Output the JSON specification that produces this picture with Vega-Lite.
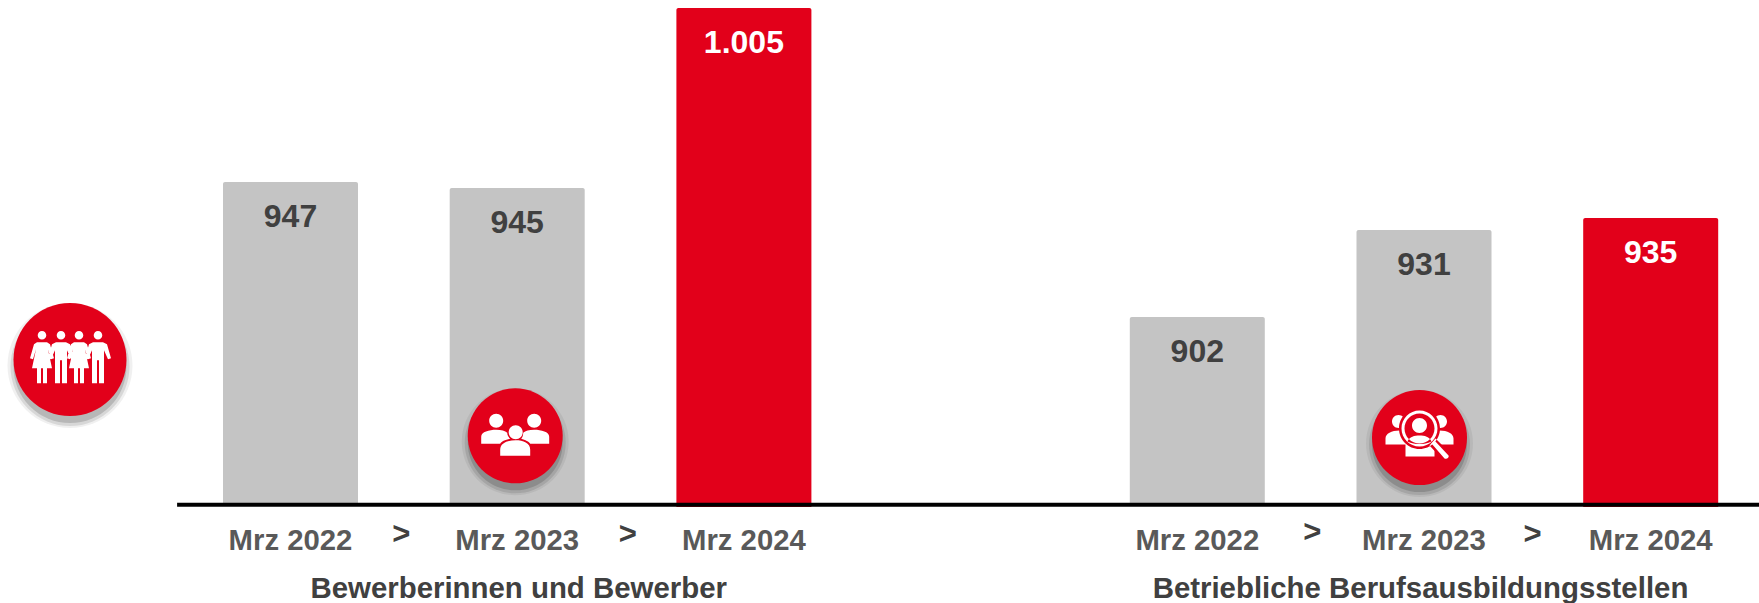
{
"$schema":"https://vega.github.io/schema/vega-lite/v6.json",
"width":1759,"height":603,"padding":0,"autosize":{"type":"none"},"background":"white",
"config":{"view":{"stroke":null},"font":"Liberation Sans"},
"data":{"values":[
{"slot":"Bewerber Mrz 2022","value":947,"label":"947","latest":false},
{"slot":"Bewerber Mrz 2023","value":945,"label":"945","latest":false},
{"slot":"Bewerber Mrz 2024","value":1005,"label":"1.005","latest":true},
{"slot":"Stellen Mrz 2022","value":902,"label":"902","latest":false},
{"slot":"Stellen Mrz 2023","value":931,"label":"931","latest":false},
{"slot":"Stellen Mrz 2024","value":935,"label":"935","latest":true}
]},
"encoding":{
"x":{"field":"slot","type":"nominal","title":null,
"scale":{"domain":["icon","Bewerber Mrz 2022","Bewerber Mrz 2023","Bewerber Mrz 2024","gap","Stellen Mrz 2022","Stellen Mrz 2023","Stellen Mrz 2024","end"],"range":[-3.7,1944.9],"paddingInner":0.4045,"paddingOuter":0},
"axis":{"orient":"bottom","offset":-98,"values":["Bewerber Mrz 2022","Bewerber Mrz 2023","Bewerber Mrz 2024","Stellen Mrz 2022","Stellen Mrz 2023","Stellen Mrz 2024"],"labelExpr":"slice(datum.label,-8)","labelAngle":0,"domain":false,"ticks":false,"labelPadding":21,"labelFont":"Liberation Sans","labelFontWeight":"bold","labelFontSize":29.3,"labelColor":"#595959","labelBaseline":"top","labelOverlap":false,"grid":false}},
"y":{"field":"value","type":"quantitative","title":null,"axis":null,"scale":{"domain":[806.667,1007.667],"nice":false,"zero":false}}
},
"layer":[
{"transform":[{"filter":"!datum.latest"}],"mark":{"type":"bar","color":"#c4c4c4","cornerRadiusTopLeft":2,"cornerRadiusTopRight":2},"encoding":{"y2":{"datum":839.33}}},
{"transform":[{"filter":"datum.latest"}],"mark":{"type":"bar","color":"#e2001a","cornerRadiusTopLeft":2,"cornerRadiusTopRight":2},"encoding":{"y2":{"datum":838.67}}},
{"data":{"values":[{"slot":"Bewerber Mrz 2022","value":839.4}]},"mark":{"type":"rule","color":"#000000","strokeWidth":4},"encoding":{"x":{"field":"slot","type":"nominal","bandPosition":-0.34},"x2":{"datum":"end"}}},
{"transform":[{"filter":"!datum.latest"}],"mark":{"type":"text","font":"Liberation Sans","fontWeight":"bold","fontSize":32,"color":"#404040","baseline":"middle","dy":34.5},"encoding":{"text":{"field":"label"}}},
{"transform":[{"filter":"datum.latest"}],"mark":{"type":"text","font":"Liberation Sans","fontWeight":"bold","fontSize":32,"color":"#ffffff","baseline":"middle","dy":34.5},"encoding":{"text":{"field":"label"}}},

{"data":{"values":[{"slot":"Bewerber Mrz 2022","value":829.3,"t":">"},{"slot":"Bewerber Mrz 2023","value":829.3,"t":">"}]},"mark":{"type":"text","font":"Liberation Sans","fontWeight":"bold","fontSize":31,"color":"#404040","baseline":"middle","dx":110.7},"encoding":{"text":{"field":"t"}}},
{"data":{"values":[{"slot":"Stellen Mrz 2022","value":830,"t":">"}]},"mark":{"type":"text","font":"Liberation Sans","fontWeight":"bold","fontSize":31,"color":"#404040","baseline":"middle","dx":115},"encoding":{"text":{"field":"t"}}},
{"data":{"values":[{"slot":"Stellen Mrz 2023","value":829.3,"t":">"}]},"mark":{"type":"text","font":"Liberation Sans","fontWeight":"bold","fontSize":31,"color":"#404040","baseline":"middle","dx":108.5},"encoding":{"text":{"field":"t"}}},

{"data":{"values":[{"slot":"Bewerber Mrz 2023","value":811.33,"t":"Bewerberinnen und Bewerber"}]},"mark":{"type":"text","font":"Liberation Sans","fontWeight":"bold","fontSize":29.4,"color":"#404040","baseline":"middle","dx":1.5},"encoding":{"text":{"field":"t"}}},
{"data":{"values":[{"slot":"Stellen Mrz 2023","value":811.33,"t":"Betriebliche Berufsausbildungsstellen"}]},"mark":{"type":"text","font":"Liberation Sans","fontWeight":"bold","fontSize":29.4,"color":"#404040","baseline":"middle","dx":-3.5},"encoding":{"text":{"field":"t"}}},

{"data":{"values":[{"slot":"icon","value":887.83}]},"mark":{"type":"point","shape":"circle","filled":true,"color":"#000000","opacity":0.06,"strokeWidth":0,"size":15625,"xOffset":6.2,"yOffset":6}},
{"data":{"values":[{"slot":"icon","value":887.83}]},"mark":{"type":"point","shape":"circle","filled":true,"color":"#000000","opacity":0.1,"strokeWidth":0,"size":14161,"xOffset":6.2,"yOffset":7}},
{"data":{"values":[{"slot":"icon","value":887.83}]},"mark":{"type":"point","shape":"circle","filled":true,"color":"#000000","opacity":0.15,"strokeWidth":0,"size":12769,"xOffset":6.2,"yOffset":7}},
{"data":{"values":[{"slot":"icon","value":887.83}]},"mark":{"type":"point","shape":"circle","filled":true,"color":"#e2001a","opacity":1,"strokeWidth":0,"size":12769,"xOffset":6.2}},
{"data":{"values":[{"slot":"icon","value":888.6}]},"mark":{"type":"point","filled":true,"color":"#ffffff","opacity":1,"strokeWidth":0,"size":4,"xOffset":6.2,
"shape":"M-32.3,-22 a4.3,4.3 0 1,0 8.6,0 a4.3,4.3 0 1,0 -8.6,0 Z M-13.3,-22 a4.3,4.3 0 1,0 8.6,0 a4.3,4.3 0 1,0 -8.6,0 Z M4.7,-22 a4.3,4.3 0 1,0 8.6,0 a4.3,4.3 0 1,0 -8.6,0 Z M23.7,-22 a4.3,4.3 0 1,0 8.6,0 a4.3,4.3 0 1,0 -8.6,0 Z M-33,-15 L-23,-15 L-20,-13 L-16,1 L-19,2 L-22,-8 L-18,11 L-23,11 L-23,26 L-27,26 L-27,11 L-29,11 L-29,26 L-33,26 L-33,11 L-38,11 L-34,-8 L-37,2 L-40,1 L-36,-13 Z M-14,-15 L-4,-15 L0,-13 L4,1 L1,2 L-3,-7 L-3,26 L-8,26 L-8,3 L-10,3 L-10,26 L-15,26 L-15,-7 L-19,2 L-22,1 L-18,-13 Z M4,-15 L14,-15 L17,-13 L21,1 L18,2 L15,-8 L19,11 L14,11 L14,26 L10,26 L10,11 L8,11 L8,26 L4,26 L4,11 L-1,11 L3,-8 L0,2 L-3,1 L1,-13 Z M23,-15 L33,-15 L37,-13 L41,1 L38,2 L34,-7 L34,26 L29,26 L29,3 L27,3 L27,26 L22,26 L22,-7 L18,2 L15,1 L19,-13 Z"}},

{"data":{"values":[{"slot":"Bewerber Mrz 2023","value":862.4}]},"mark":{"type":"point","shape":"circle","filled":true,"color":"#000000","opacity":0.06,"strokeWidth":0,"size":11449,"xOffset":-2,"yOffset":6}},
{"data":{"values":[{"slot":"Bewerber Mrz 2023","value":862.4}]},"mark":{"type":"point","shape":"circle","filled":true,"color":"#000000","opacity":0.1,"strokeWidth":0,"size":10201,"xOffset":-2,"yOffset":7}},
{"data":{"values":[{"slot":"Bewerber Mrz 2023","value":862.4}]},"mark":{"type":"point","shape":"circle","filled":true,"color":"#000000","opacity":0.15,"strokeWidth":0,"size":9025,"xOffset":-2,"yOffset":7}},
{"data":{"values":[{"slot":"Bewerber Mrz 2023","value":862.4}]},"mark":{"type":"point","shape":"circle","filled":true,"color":"#e2001a","opacity":1,"strokeWidth":0,"size":9025,"xOffset":-2}},
{"data":{"values":[{"slot":"Bewerber Mrz 2023","value":862.4}]},"mark":{"type":"point","filled":true,"color":"#ffffff","opacity":1,"strokeWidth":0,"size":4,"xOffset":-2,
"shape":"M-26,-15 a7,7 0 1,0 14,0 a7,7 0 1,0 -14,0 Z M12,-15 a7,7 0 1,0 14,0 a7,7 0 1,0 -14,0 Z M-6.5,-3.5 a7,7 0 1,0 14,0 a7,7 0 1,0 -14,0 Z M-34,8 L-34,1 C-34,-4 -26,-6 -19,-6 C-14,-6 -10,-5 -8,-3 C-8,0 -6,2 -5,3 C-10,4 -14,6 -15,8 Z M34,8 L34,1 C34,-4 26,-6 19,-6 C14,-6 10,-5 8,-3 C8,0 7,2 6,3 C10,4 14,6 15,8 Z M-15,20 L-15,14 C-15,7 -7,4.5 0.5,4.5 C8,4.5 15,7 15,14 L15,20 Z"}},

{"data":{"values":[{"slot":"Stellen Mrz 2023","value":861.83}]},"mark":{"type":"point","shape":"circle","filled":true,"color":"#000000","opacity":0.06,"strokeWidth":0,"size":11449,"xOffset":-4.5,"yOffset":6}},
{"data":{"values":[{"slot":"Stellen Mrz 2023","value":861.83}]},"mark":{"type":"point","shape":"circle","filled":true,"color":"#000000","opacity":0.1,"strokeWidth":0,"size":10201,"xOffset":-4.5,"yOffset":7}},
{"data":{"values":[{"slot":"Stellen Mrz 2023","value":861.83}]},"mark":{"type":"point","shape":"circle","filled":true,"color":"#000000","opacity":0.15,"strokeWidth":0,"size":9025,"xOffset":-4.5,"yOffset":7}},
{"data":{"values":[{"slot":"Stellen Mrz 2023","value":861.83}]},"mark":{"type":"point","shape":"circle","filled":true,"color":"#e2001a","opacity":1,"strokeWidth":0,"size":9025,"xOffset":-4.5}},
{"data":{"values":[{"slot":"Stellen Mrz 2023","value":861.83}]},"mark":{"type":"point","filled":true,"color":"#ffffff","opacity":1,"strokeWidth":0,"size":4,"xOffset":-4.5,
"shape":"M-27.5,-16 a6.5,6.5 0 1,0 13,0 a6.5,6.5 0 1,0 -13,0 Z M14.5,-16 a6.5,6.5 0 1,0 13,0 a6.5,6.5 0 1,0 -13,0 Z M-34,7 L-34,1 C-34,-4 -28,-7 -20,-7 L-10,-7 L-10,7 Z M34,7 L34,1 C34,-4 28,-7 20,-7 L10,-7 L10,7 Z M-14,19 L-14,7 L15,7 L15,19 Z"}},
{"data":{"values":[{"slot":"Stellen Mrz 2023","value":861.83}]},"mark":{"type":"point","filled":true,"color":"#e2001a","opacity":1,"strokeWidth":0,"size":4,"xOffset":-4.5,
"shape":"M-20.5,-9 a20.5,20.5 0 1,0 41,0 a20.5,20.5 0 1,0 -41,0 Z M10,8 L16,1 L32,17 C33,22 28,25 24,23 Z"}},
{"data":{"values":[{"slot":"Stellen Mrz 2023","value":861.83}]},"mark":{"type":"point","filled":true,"color":"#ffffff","opacity":1,"strokeWidth":0,"size":4,"xOffset":-4.5,
"shape":"M-18,-9 a18,18 0 1,0 36,0 a18,18 0 1,0 -36,0 Z M-15,-9 a15,15 0 1,1 30,0 a15,15 0 1,1 -30,0 Z M-7.5,-12 a7.5,7.5 0 1,0 15,0 a7.5,7.5 0 1,0 -15,0 Z M-12,4 C-10,-1 -5,-2 0,-2 C5,-2 10,-1 12,4 C8,6 4,6.5 0,6.5 C-4,6.5 -8,6 -12,4 Z M12,6 L15,3 L29,18 C30,20 27,22 25,21 Z"}}
]
}
